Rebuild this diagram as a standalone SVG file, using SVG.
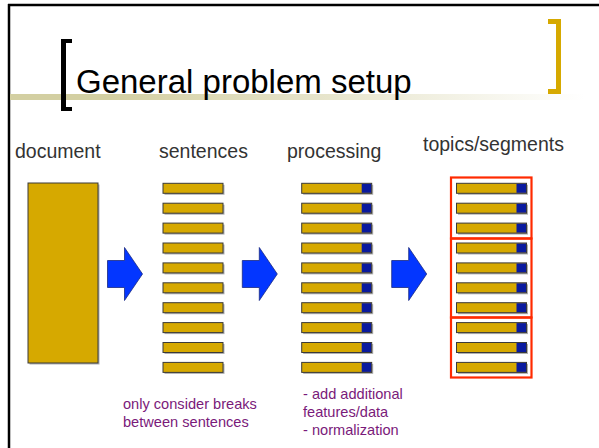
<svg xmlns="http://www.w3.org/2000/svg" width="599" height="448" viewBox="0 0 599 448">
  <style>
    .label { font-family: "Liberation Sans", Arial, sans-serif; font-size: 19.5px; fill: #333333; }
    .note { font-family: "Liberation Sans", Arial, sans-serif; font-size: 14.6px; fill: #7a1a7a; }
    .title { font-family: "Liberation Sans", Arial, sans-serif; font-size: 33px; fill: #000000; }
    .gold { fill: #d6a900; stroke: #3a3a3a; stroke-width: 1; }
    .shadow { fill: #b0b0b0; }
    .feat { fill: #0a1a9e; }
    .arrow { fill: #0336ff; stroke: #1a2a80; stroke-width: 0.8; }
    .seg { fill: none; stroke: #ff2a00; stroke-width: 2.2; }
  </style>
  <defs>
    <linearGradient id="rule" x1="0" y1="0" x2="1" y2="0">
      <stop offset="0" stop-color="#d3cfa2"/>
      <stop offset="0.18" stop-color="#d3cfa2"/>
      <stop offset="1" stop-color="#ffffff"/>
    </linearGradient>
    <!-- one sentence bar, with its drop shadow -->
    <g id="bar">
      <rect class="shadow" x="1.5" y="1.5" width="60" height="10"/>
      <rect class="gold" x="0" y="0" width="60" height="10"/>
    </g>
    <!-- a sentence bar with an extra feature block at its end -->
    <g id="fbar">
      <rect class="shadow" x="1.5" y="1.5" width="70" height="10"/>
      <rect class="gold" x="0" y="0" width="70" height="10"/>
      <rect class="feat" x="60" y="0.5" width="9.5" height="9"/>
    </g>
    <path id="blockArrow" d="M0,13 H17 V0 L35,26.5 L17,53 V40 H0 Z"/>
  </defs>

  <rect x="0" y="0" width="599" height="448" fill="#ffffff"/>

  <!-- slide frame -->
  <g id="frame">
    <line x1="8" y1="5" x2="599" y2="5" stroke="#000" stroke-width="2.5"/>
    <line x1="9" y1="4" x2="9" y2="448" stroke="#000" stroke-width="2.5"/>
  </g>

  <!-- title area -->
  <g id="title">
    <rect x="10" y="94" width="575" height="6" fill="url(#rule)"/>
    <path d="M61,39 H72 V43 H66 V107 H72 V111 H61 Z" fill="#000"/>
    <path d="M548,19 H561 V94 H548 V89 H556 V24 H548 Z" fill="#d6a900"/>
    <text class="title" x="76" y="93">General problem setup</text>
  </g>

  <!-- column headings -->
  <g id="headings">
    <text class="label" x="15" y="158">document</text>
    <text class="label" x="159" y="158">sentences</text>
    <text class="label" x="287" y="158">processing</text>
    <text class="label" x="423" y="151">topics/segments</text>
  </g>

  <!-- whole document -->
  <g id="document">
    <rect class="shadow" x="29.5" y="184.5" width="70" height="180"/>
    <rect class="gold" x="28" y="183" width="70" height="180"/>
  </g>

  <!-- split into sentences -->
  <g id="sentences">
    <use href="#bar" x="163" y="183.3"/>
    <use href="#bar" x="163" y="203.2"/>
    <use href="#bar" x="163" y="223.1"/>
    <use href="#bar" x="163" y="243"/>
    <use href="#bar" x="163" y="262.9"/>
    <use href="#bar" x="163" y="282.8"/>
    <use href="#bar" x="163" y="302.7"/>
    <use href="#bar" x="163" y="322.6"/>
    <use href="#bar" x="163" y="342.5"/>
    <use href="#bar" x="163" y="362.4"/>
  </g>

  <!-- sentences with added features -->
  <g id="processing">
    <use href="#fbar" x="301.7" y="183.3"/>
    <use href="#fbar" x="301.7" y="203.2"/>
    <use href="#fbar" x="301.7" y="223.1"/>
    <use href="#fbar" x="301.7" y="243"/>
    <use href="#fbar" x="301.7" y="262.9"/>
    <use href="#fbar" x="301.7" y="282.8"/>
    <use href="#fbar" x="301.7" y="302.7"/>
    <use href="#fbar" x="301.7" y="322.6"/>
    <use href="#fbar" x="301.7" y="342.5"/>
    <use href="#fbar" x="301.7" y="362.4"/>
  </g>

  <!-- grouped into topic segments -->
  <g id="segments">
    <use href="#fbar" x="456.5" y="183.3"/>
    <use href="#fbar" x="456.5" y="203.2"/>
    <use href="#fbar" x="456.5" y="223.1"/>
    <use href="#fbar" x="456.5" y="243"/>
    <use href="#fbar" x="456.5" y="262.9"/>
    <use href="#fbar" x="456.5" y="282.8"/>
    <use href="#fbar" x="456.5" y="302.7"/>
    <use href="#fbar" x="456.5" y="322.6"/>
    <use href="#fbar" x="456.5" y="342.5"/>
    <use href="#fbar" x="456.5" y="362.4"/>
    <rect class="seg" x="451" y="177.5" width="80.5" height="61"/>
    <rect class="seg" x="451" y="238.5" width="80.5" height="79"/>
    <rect class="seg" x="451" y="317.5" width="80.5" height="60"/>
  </g>

  <!-- step arrows -->
  <g id="connectors">
    <use href="#blockArrow" class="arrow" x="107.5" y="247.5"/>
    <use href="#blockArrow" class="arrow" x="242.3" y="247.5"/>
    <use href="#blockArrow" class="arrow" x="391.7" y="247.5"/>
  </g>

  <!-- notes -->
  <g id="notes">
    <text class="note" x="123" y="409">only consider breaks</text>
    <text class="note" x="123" y="427">between sentences</text>
    <text class="note" x="303" y="399">- add additional</text>
    <text class="note" x="303" y="417">features/data</text>
    <text class="note" x="303" y="435">- normalization</text>
  </g>
</svg>
